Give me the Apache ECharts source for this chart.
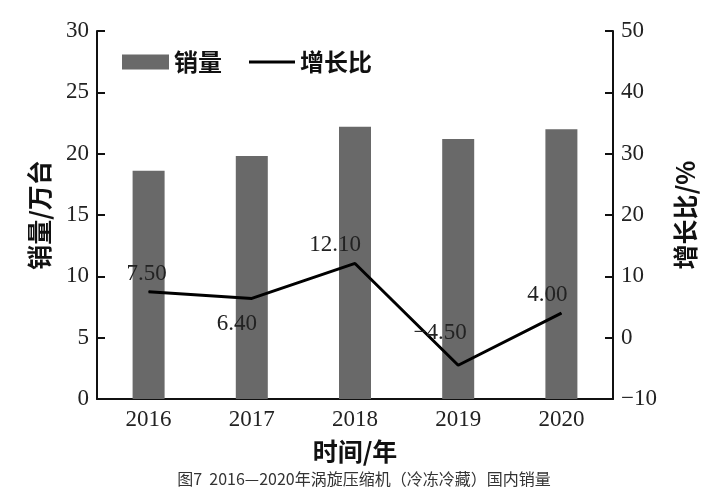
<!DOCTYPE html>
<html><head><meta charset="utf-8">
<script src="https://cdn.jsdelivr.net/npm/echarts@6/dist/echarts.min.js"></script>
<style>html,body{margin:0;padding:0;background:#fff;}#c{width:728px;height:498px;}</style>
</head><body><div id="c"></div>
<script>
const categories = ['2016','2017','2018','2019','2020'];
const sales = [18.6, 19.8, 22.2, 21.2, 22.0];
const growth = [7.5, 6.4, 12.1, -4.5, 4.0];
const leftTicks = {min:0, max:30, interval:5};
const rightTicks = {min:-10, max:50, interval:10};

const labelPlace = [
  {position:'top', offset:[-2,-1]},
  {position:'bottom', offset:[-15,9]},
  {position:'top', offset:[-20,-2]},
  {position:'top', offset:[-18,-15]},
  {position:'top', offset:[-14,-1]}
];
const serif = '"Liberation Serif","DejaVu Serif",serif';
const cjk = '"Noto Sans CJK SC","Noto Sans",sans-serif';
const legendText = {fontFamily:cjk, fontSize:24, fontWeight:'bold', color:'#111'};

const chart = echarts.init(document.getElementById('c'));
chart.setOption({
  animation:false,
  backgroundColor:'#fff',
  grid:{left:97, right:115, top:31, bottom:99},
  legend:[
    {left:117, top:45, itemWidth:47, itemHeight:15, itemGap:8,
     textStyle:legendText, data:[{name:'销量', icon:'rect'}]},
    {left:244, top:45, itemWidth:46, itemHeight:3, itemGap:8,
     textStyle:legendText, data:[{name:'增长比', icon:'rect', itemStyle:{color:'#000'}}]}
  ],
  xAxis:{
    type:'category', data:categories,
    name:'时间/年', nameLocation:'middle', nameGap:40,
    nameTextStyle:{fontFamily:cjk, fontSize:25, fontWeight:'bold', color:'#111'},
    axisLine:{lineStyle:{color:'#111', width:2}},
    axisTick:{inside:true, length:8, lineStyle:{color:'#111', width:2}},
    axisLabel:{fontFamily:serif, fontSize:23, color:'#222', margin:9}
  },
  yAxis:[
    {type:'value', min:leftTicks.min, max:leftTicks.max, interval:leftTicks.interval,
     name:'销量/万台', nameLocation:'middle', nameGap:45,
     nameTextStyle:{fontFamily:cjk, fontSize:25, fontWeight:'bold', color:'#111'},
     axisLine:{show:true, lineStyle:{color:'#111', width:2}},
     axisTick:{show:true, inside:true, length:8, lineStyle:{color:'#111', width:2}},
     axisLabel:{fontFamily:serif, fontSize:23, color:'#222', margin:8},
     splitLine:{show:false}},
    {type:'value', min:rightTicks.min, max:rightTicks.max, interval:rightTicks.interval,
     position:'right',
     name:'增长比/%', nameLocation:'middle', nameGap:60, nameRotate:90,
     nameTextStyle:{fontFamily:cjk, fontSize:25, fontWeight:'bold', color:'#111'},
     axisLine:{show:true, lineStyle:{color:'#111', width:2}},
     axisTick:{show:true, inside:true, length:8, lineStyle:{color:'#111', width:2}},
     axisLabel:{fontFamily:serif, fontSize:23, color:'#222', margin:8,
       formatter:v=>String(v).replace('-','\u2212')},
     splitLine:{show:false}}
  ],
  series:[
    {name:'销量', type:'bar', data:sales, barWidth:32, itemStyle:{color:'#696969'}, yAxisIndex:0},
    {name:'增长比', type:'line', yAxisIndex:1, symbol:'circle', symbolSize:1, showSymbol:true,
     lineStyle:{color:'#000', width:3}, itemStyle:{color:'#000'},
     data:growth.map((v,i)=>({value:v, label:Object.assign({show:true}, labelPlace[i])})),
     label:{show:true, fontFamily:serif, fontSize:23, color:'#222',
       formatter:p=>p.value.toFixed(2).replace('-','\u2212')}}
  ],
  graphic:[{type:'text', left:'center', top:471,
    style:{text:'图7  2016—2020年涡旋压缩机（冷冻冷藏）国内销量', font:'16px "Noto Sans CJK SC", sans-serif', fill:'#333'}}]
});
</script></body></html>
